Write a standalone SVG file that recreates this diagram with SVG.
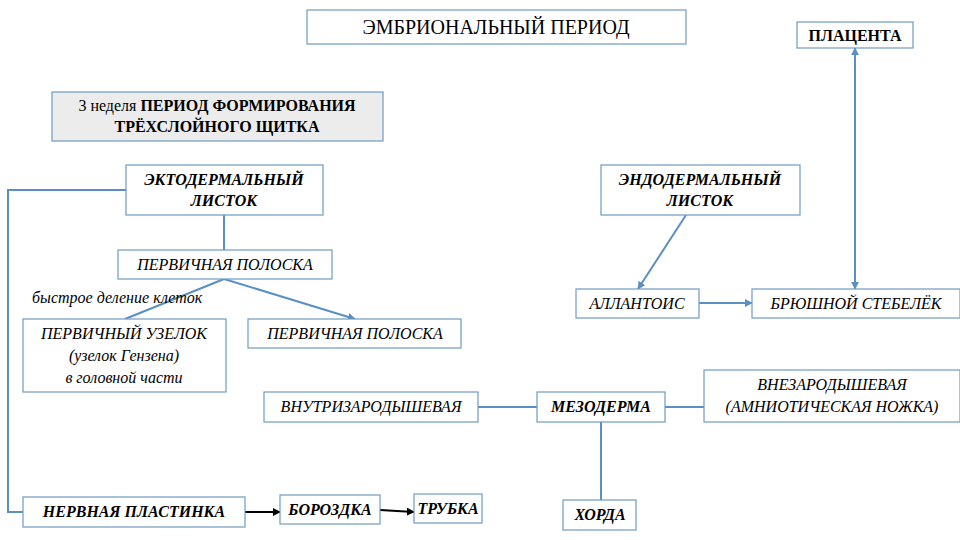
<svg xmlns="http://www.w3.org/2000/svg" width="960" height="540" viewBox="0 0 960 540" font-family="'Liberation Serif','Times New Roman','DejaVu Serif',serif">
<style>
.b{fill:#fff;stroke:#6f9ac0;stroke-width:1.2}
.g{fill:#ececec;stroke:#6f9ac0;stroke-width:1.2}
text{font-family:'Liberation Serif','Times New Roman','DejaVu Serif',serif;font-size:16px;text-anchor:middle;fill:#000}
.i{font-style:italic}
.bi{font-style:italic;font-weight:bold}
.bd{font-weight:bold}
.c{fill:none;stroke:#5a8fc4;stroke-width:2}
.k{fill:none;stroke:#000;stroke-width:2}
</style>
<defs>
<marker id="a" viewBox="0 0 10 10" refX="9" refY="5" markerWidth="4" markerHeight="4" orient="auto-start-reverse"><path d="M0,0L10,5L0,10z" fill="#5a8fc4"/></marker>
<marker id="ak" viewBox="0 0 10 10" refX="9" refY="5" markerWidth="4" markerHeight="4" orient="auto"><path d="M0,0L10,5L0,10z" fill="#000"/></marker>
</defs>
<g id="connectors">
<path class="c" d="M224,215V250"/>
<path class="c" d="M126,190H8V512H23"/>
<path class="c" d="M224,279L125,319"/>
<path class="c" d="M224,279L355,319" marker-end="url(#a)"/>
<path class="c" d="M686,215L638,289" marker-end="url(#a)"/>
<path class="c" d="M699,303H752" marker-end="url(#a)"/>
<path class="c" d="M855,289V48" marker-start="url(#a)" marker-end="url(#a)"/>
<path class="c" d="M478,407H537"/>
<path class="c" d="M665,407H704"/>
<path class="c" d="M601,422V500"/>
<path class="k" d="M245,512H280" marker-end="url(#ak)"/>
<path class="k" d="M380,510L414,512" marker-end="url(#ak)"/>
</g>
<g id="title"><rect class="b" x="307" y="10" width="379" height="34"/><text x="496" y="34" style="font-size:20px">ЭМБРИОНАЛЬНЫЙ ПЕРИОД</text></g>
<g id="placenta"><rect class="b" x="797" y="22" width="116" height="26"/><text class="bd" x="855" y="41">ПЛАЦЕНТА</text></g>
<g id="week3"><rect class="g" x="52" y="92" width="331" height="49"/><text x="217" y="111">3 неделя <tspan class="bd">ПЕРИОД ФОРМИРОВАНИЯ</tspan></text><text class="bd" x="217" y="132">ТРЁХСЛОЙНОГО ЩИТКА</text></g>
<g id="ecto"><rect class="b" x="126" y="165" width="197" height="50"/><text class="bi" x="224" y="185">ЭКТОДЕРМАЛЬНЫЙ</text><text class="bi" x="224" y="206">ЛИСТОК</text></g>
<g id="endo"><rect class="b" x="601" y="165" width="199" height="50"/><text class="bi" x="700" y="185">ЭНДОДЕРМАЛЬНЫЙ</text><text class="bi" x="700" y="206">ЛИСТОК</text></g>
<g id="streak1"><rect class="b" x="118" y="250" width="214" height="29"/><text class="i" x="225" y="270">ПЕРВИЧНАЯ ПОЛОСКА</text></g>
<text class="i" x="32" y="303" style="text-anchor:start">быстрое деление клеток</text>
<g id="node"><rect class="b" x="23" y="319" width="203" height="73"/><text class="i" x="124" y="339">ПЕРВИЧНЫЙ УЗЕЛОК</text><text class="i" x="124" y="361">(узелок Гензена)</text><text class="i" x="124" y="383">в головной части</text></g>
<g id="streak2"><rect class="b" x="248" y="319" width="213" height="29"/><text class="i" x="355" y="339">ПЕРВИЧНАЯ ПОЛОСКА</text></g>
<g id="allant"><rect class="b" x="576" y="289" width="123" height="29"/><text class="i" x="637" y="309">АЛЛАНТОИС</text></g>
<g id="stalk"><rect class="b" x="752" y="289" width="208" height="29"/><text class="i" x="856" y="309">БРЮШНОЙ СТЕБЕЛЁК</text></g>
<g id="extra"><rect class="b" x="704" y="370" width="256" height="52"/><text class="i" x="832" y="390">ВНЕЗАРОДЫШЕВАЯ</text><text class="i" x="832" y="412">(АМНИОТИЧЕСКАЯ НОЖКА)</text></g>
<g id="intra"><rect class="b" x="264" y="392" width="214" height="30"/><text class="i" x="371" y="412">ВНУТРИЗАРОДЫШЕВАЯ</text></g>
<g id="meso"><rect class="b" x="537" y="392" width="128" height="30"/><text class="bi" x="601" y="412">МЕЗОДЕРМА</text></g>
<g id="plate"><rect class="b" x="23" y="497" width="222" height="30"/><text class="bi" x="134" y="517">НЕРВНАЯ ПЛАСТИНКА</text></g>
<g id="groove"><rect class="b" x="280" y="495" width="100" height="29"/><text class="bi" x="330" y="515">БОРОЗДКА</text></g>
<g id="tube"><rect class="b" x="414" y="494" width="68" height="29"/><text class="bi" x="448" y="514">ТРУБКА</text></g>
<g id="chorda"><rect class="b" x="563" y="500" width="73" height="30"/><text class="bi" x="600" y="520">ХОРДА</text></g>
</svg>
